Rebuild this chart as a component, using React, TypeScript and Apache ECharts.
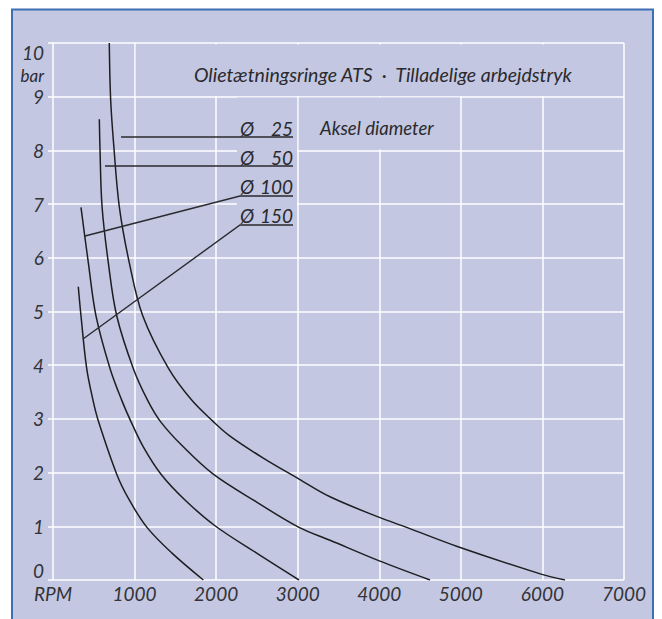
import React, { useEffect, useRef } from "react";
import * as echarts from "echarts";

// Tick labels
const xTickLabels = ["RPM", "1000", "2000", "3000", "4000", "5000", "6000", "7000"];
const yTickLabels = ["0", "1", "2", "3", "4", "5", "6", "7", "8", "9", "10"];

// Series: [RPM, bar]
const seriesNames = ["Ø 25", "Ø 50", "Ø 100", "Ø 150"];

const dia25: [number, number][] = [
  [690, 10.0], [707, 8.94], [748, 8.03], [813, 6.95], [935, 5.91], [1100, 4.92],
  [1416, 3.94], [1700, 3.35], [1965, 2.95], [2170, 2.68], [2578, 2.27],
  [3016, 1.88], [3396, 1.55], [3993, 1.17], [4336, 0.98], [4965, 0.62],
  [5983, 0.11], [6277, 0],
];

const dia50: [number, number][] = [
  [568, 8.58], [576, 8.03], [601, 6.96], [678, 5.91], [781, 4.92], [984, 3.94],
  [1159, 3.35], [1318, 2.95], [1597, 2.48], [1965, 1.97], [2497, 1.45],
  [3016, 0.98], [3396, 0.74], [3993, 0.36], [4622, 0],
];

const dia100: [number, number][] = [
  [343, 6.94], [433, 5.91], [527, 4.92], [699, 3.94], [842, 3.35], [956, 2.95],
  [1107, 2.48], [1324, 1.97], [1618, 1.49], [1986, 1.01], [2497, 0.5], [3016, 0],
];

const dia150: [number, number][] = [
  [310, 5.46], [343, 4.92], [413, 3.94], [490, 3.35], [558, 2.95], [781, 1.97],
  [935, 1.49], [1152, 0.98], [1459, 0.5], [1843, 0],
];

const allSeries = [dia25, dia50, dia100, dia150];

const titleText = "Olietætningsringe ATS  ·  Tilladelige arbejdstryk";
const legendTitle = "Aksel diameter";
const unitLabel = "bar";

const BG = "#c3c7e1";
const INK = "#2a2a2e";
const FONT = "Lato";

export default function App() {
  const ref = useRef<HTMLDivElement>(null);

  useEffect(() => {
    if (!ref.current) return;
    const chart = echarts.init(ref.current, null, { renderer: "svg" });

    const txt = (text: string, x: number, y: number, align: string, size = 18) => ({
      type: "text",
      z: 20,
      x,
      y,
      style: {
        text,
        fill: INK,
        fontSize: size,
        fontFamily: FONT,
        fontStyle: "italic",
        align,
        verticalAlign: "middle",
      },
    });
    const knock = (x: number, y: number, w: number, h: number) => ({
      type: "rect",
      z: 1,
      shape: { x, y, width: w, height: h },
      style: { fill: BG },
    });
    const leader = (pts: number[][]) => ({
      type: "polyline",
      z: 15,
      shape: { points: pts },
      style: { stroke: "#2a2a2e", lineWidth: 1.4, fill: null },
    });

    const legendNums = ["25", "50", "100", "150"];
    const legendY = [128, 157, 186.5, 215];

    const graphic: any[] = [
      {
        type: "rect",
        z: -10,
        shape: { x: 12, y: 9.5, width: 641, height: 640 },
        style: { fill: BG, stroke: "#3d6fb5", lineWidth: 2 },
      },
      knock(135.8, 44.5, 487.2, 51.5),
      knock(298.8, 97.5, 161.2, 52),
      knock(237, 97.5, 60, 135),
      txt(titleText, 194, 74, "left", 19.5),
      txt(legendTitle, 320, 128, "left", 18.5),
      txt(unitLabel, 44, 75, "right", 17),
      leader([[121, 137], [293, 137]]),
      leader([[105, 166], [293, 166]]),
      leader([[85, 236], [240, 196], [293, 196]]),
      leader([[83, 339], [240, 225], [293, 225]]),
    ];
    legendNums.forEach((n, i) => {
      graphic.push(txt("Ø", 240, legendY[i], "left", 19));
      graphic.push(txt(n, 293, legendY[i], "right", 19));
    });

    chart.setOption({
      animation: false,
      backgroundColor: "#ffffff",
      grid: { left: 53, right: 38, top: 43, bottom: 39 },
      xAxis: {
        type: "value",
        min: 0,
        max: 7000,
        interval: 1000,
        axisLine: { show: false },
        axisTick: { show: false },
        splitLine: { show: true, lineStyle: { color: "#ffffff", width: 1.5 } },
        axisLabel: {
          formatter: (v: number) => xTickLabels[Math.round(v / 1000)] ?? "",
          color: "#333338",
          fontStyle: "italic",
          fontFamily: FONT,
          fontSize: 19,
          margin: 4,
        },
      },
      yAxis: {
        type: "value",
        min: 0,
        max: 10,
        interval: 1,
        axisLine: { show: false },
        axisTick: { show: true, length: 5, lineStyle: { color: "#ffffff", width: 1.5 } },
        splitLine: { show: true, lineStyle: { color: "#ffffff", width: 1.5 } },
        axisLabel: {
          formatter: (v: number) => yTickLabels[Math.round(v)] ?? "",
          color: "#333338",
          fontStyle: "italic",
          fontFamily: FONT,
          fontSize: 19,
          margin: 9,
          verticalAlignMinLabel: "bottom",
          verticalAlignMaxLabel: "top",
        },
      },
      series: allSeries.map((d, i) => ({
        name: seriesNames[i],
        type: "line",
        data: d,
        z: 5,
        smooth: 0.35,
        showSymbol: false,
        symbol: "none",
        lineStyle: { color: "#1e1e22", width: 1.5 },
      })),
      graphic,
    });

    return () => chart.dispose();
  }, []);

  return (
    <div
      ref={ref}
      style={{ position: "absolute", left: 0, top: 0, width: 662, height: 619 }}
    />
  );
}
